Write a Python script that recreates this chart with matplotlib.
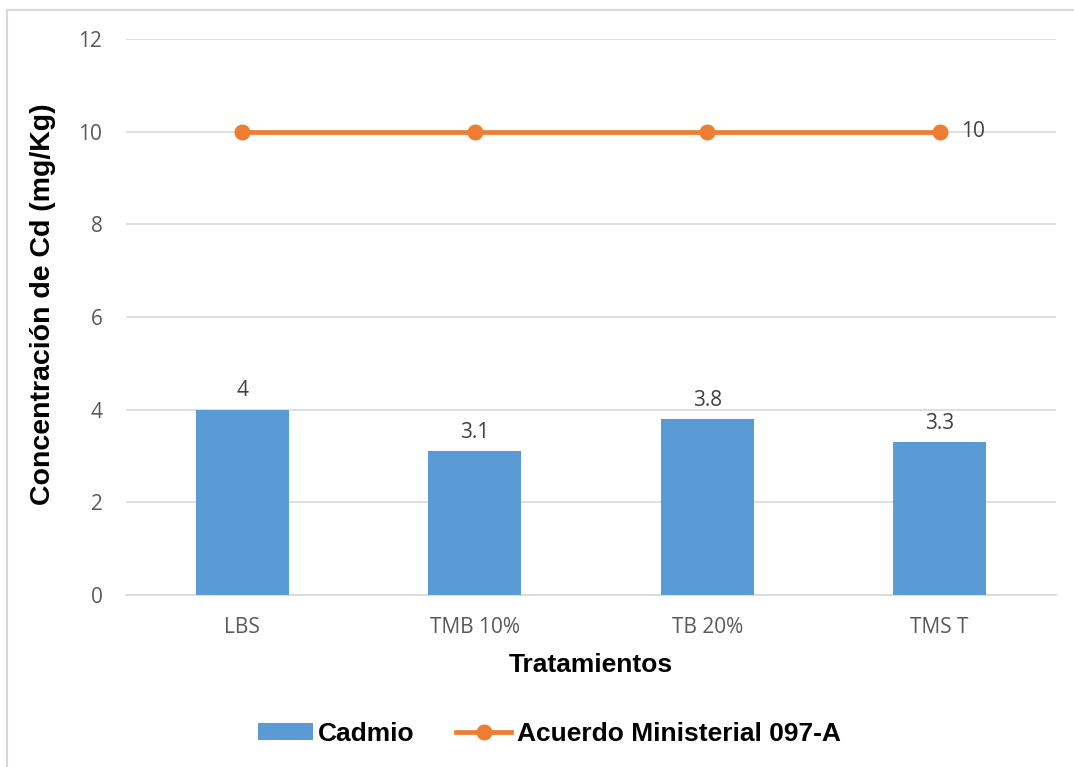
import matplotlib
matplotlib.use("Agg")
import matplotlib.pyplot as plt
from matplotlib.lines import Line2D
import numpy as np

categories = ["LBS", "TMB 10%", "TB 20%", "TMS T"]
cadmio = [4, 3.1, 3.8, 3.3]
acuerdo = [10, 10, 10, 10]
yticks = [0, 2, 4, 6, 8, 10, 12]

W, H = 1074, 767
fig = plt.figure(figsize=(W / 100, H / 100), dpi=100)
ax = fig.add_axes([126 / W, 1 - 595 / H, (1056 - 126) / W, (595 - 39) / H])

blue = "#5B9BD5"
orange = "#ED7D31"
tickc = "#595959"

x = np.arange(len(categories))
hb = ax.bar(x, cadmio, width=0.4, color=blue, zorder=3, label="Cadmio")
hl, = ax.plot(x, acuerdo, color=orange, lw=3.4, marker="o", ms=10.5, zorder=4,
              label="Acuerdo Ministerial 097-A")

for xi, v in zip(x, cadmio):
    ax.annotate(f"{v:g}", (xi, v), xytext=(0, 6), textcoords="offset points",
                ha="center", va="bottom", fontsize=15, color="#404040",
                family="Open Sans")
ax.annotate(f"{acuerdo[-1]:g}", (x[-1], acuerdo[-1]), xytext=(15, 0),
            textcoords="offset points", ha="left", va="center", fontsize=15,
            color="#404040", family="Open Sans")

ax.set_xlim(-0.5, len(categories) - 0.5)
ax.set_ylim(0, 12)
ax.set_yticks(yticks)
ax.set_xticks(x)
ax.set_xticklabels(categories)
ax.grid(axis="y", color="#D9D9D9", lw=1.2, zorder=0)
for s in ["top", "right", "left"]:
    ax.spines[s].set_visible(False)
ax.spines["bottom"].set_color("#D9D9D9")
ax.spines["bottom"].set_linewidth(1.2)
ax.tick_params(axis="both", length=0, labelsize=15, labelcolor=tickc)
ax.tick_params(axis="y", pad=17)
ax.tick_params(axis="x", pad=16)
for lab in ax.get_xticklabels() + ax.get_yticklabels():
    lab.set_family("Open Sans")

ax.set_ylabel("Concentración de Cd (mg/Kg)", fontsize=20.5, fontweight="bold",
              family="Liberation Sans", labelpad=16)
ax.yaxis.label.set_y((595 - 304) / (595 - 39))
ax.set_xlabel("Tratamientos", fontsize=19, fontweight="bold",
              family="Liberation Sans", labelpad=11)

leg = fig.legend([hb, hl], ["Cadmio", "Acuerdo Ministerial 097-A"],
                 loc="center", bbox_to_anchor=(549 / W, 1 - 734 / H), ncol=2,
                 frameon=False,
                 prop={"family": "Liberation Sans", "weight": "bold", "size": 19},
                 handlelength=2.1, handleheight=0.6, handletextpad=0.2,
                 columnspacing=1.55)

# chart border
fig.add_artist(Line2D([7 / W, 7 / W], [0, 1 - 10 / H], transform=fig.transFigure,
                      color="#D9D9D9", lw=1.5))
fig.add_artist(Line2D([7 / W, 1], [1 - 10 / H, 1 - 10 / H], transform=fig.transFigure,
                      color="#D9D9D9", lw=1.5))

fig.savefig("out.png", dpi=100, facecolor="white")
